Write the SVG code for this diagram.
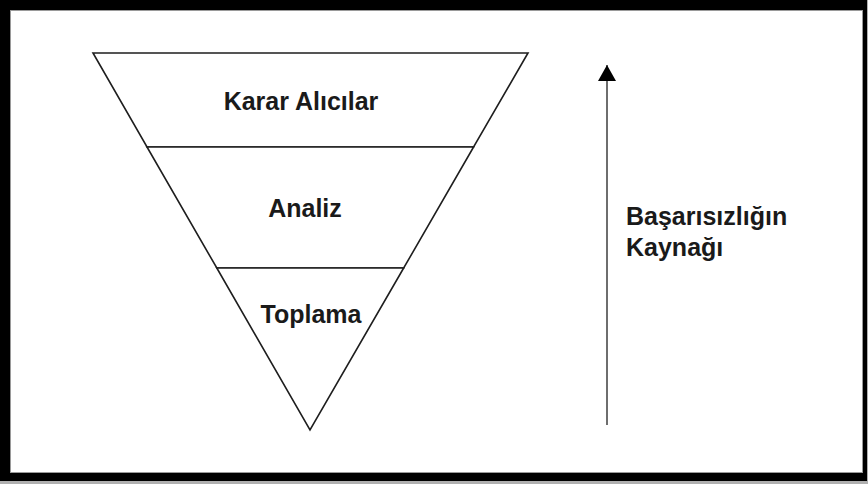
<svg xmlns="http://www.w3.org/2000/svg" width="868" height="484" viewBox="0 0 868 484">
  <style>
    .layer { fill: #ffffff; stroke: #1e1e1e; stroke-width: 1.6; stroke-linejoin: miter; }
    .lbl { font-family: "Liberation Sans", Arial, sans-serif; font-weight: bold; font-size: 25px; fill: #1a1a1a; }
    .shaft { stroke: #6e6e6e; stroke-width: 2; fill: none; }
  </style>
  <defs>
    <marker id="head" viewBox="0 0 16 18" refX="16" refY="9" markerWidth="16" markerHeight="18" markerUnits="userSpaceOnUse" orient="auto">
      <path d="M0,0 L16,9 L0,18 Z" fill="#000000"/>
    </marker>
  </defs>
  <g id="frame">
    <rect x="0" y="0" width="868" height="484" fill="#b0b0b0"/>
    <rect x="0" y="0" width="867" height="481" fill="#000000"/>
    <rect x="10.5" y="10.5" width="852" height="462" fill="#ffffff" stroke="#9a9a9a" stroke-width="1"/>
  </g>
  <g id="layer-karar-alicilar">
    <polygon class="layer" points="93,53 528,53 473.6,147 147,147"/>
    <text class="lbl" x="301" y="110" text-anchor="middle">Karar Alıcılar</text>
  </g>
  <g id="layer-analiz">
    <polygon class="layer" points="147,147 473.6,147 403.7,268 216.8,268"/>
    <text class="lbl" x="305" y="217" text-anchor="middle">Analiz</text>
  </g>
  <g id="layer-toplama">
    <polygon class="layer" points="216.8,268 403.7,268 310,430"/>
    <text class="lbl" x="311" y="323" text-anchor="middle">Toplama</text>
  </g>
  <g id="connectors">
    <line class="shaft" x1="607" y1="425" x2="607" y2="65" marker-end="url(#head)"/>
  </g>
  <g id="label-basarisizlik">
    <text class="lbl" x="626" y="225">Başarısızlığın</text>
    <text class="lbl" x="626" y="256">Kaynağı</text>
  </g>
</svg>
